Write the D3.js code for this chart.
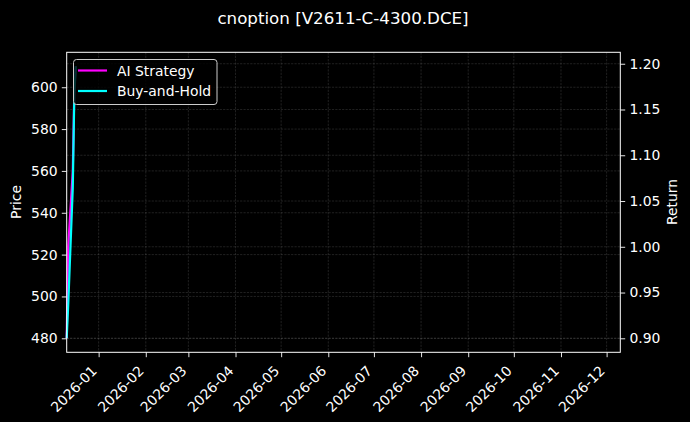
<!DOCTYPE html>
<html><head><meta charset="utf-8">
<script src="https://cdn.jsdelivr.net/npm/d3@7"></script>
<style>
html,body{margin:0;padding:0;background:#000;}
svg{display:block;font-family:"DejaVu Sans",sans-serif;}
</style></head>
<body><svg id="chart" width="690" height="422"></svg>
<script>
const title = "cnoption [V2611-C-4300.DCE]";
const dates = ["2025-12-11","2025-12-12","2025-12-15","2025-12-16","2025-12-17"];
const aiStrategy = [480, 524, 560, 598, 610];
const buyHold = [480, 496, 552, 596, 610];
const xDomain = ["2025-12-11","2026-12-10"];
const priceTicks = [480, 500, 520, 540, 560, 580, 600];
const returnTicks = [0.90, 0.95, 1.00, 1.05, 1.10, 1.15, 1.20];
const monthTicks = ["2026-01-01","2026-02-01","2026-03-01","2026-04-01","2026-05-01","2026-06-01",
  "2026-07-01","2026-08-01","2026-09-01","2026-10-01","2026-11-01","2026-12-01"];
const seriesNames = ["AI Strategy","Buy-and-Hold"];
const seriesColors = ["#ff00ff","#00ffff"];

const parse = d3.utcParse("%Y-%m-%d");
const L = 66.7, R = 620.3, T = 52.3, B = 352.3;
const FS = "13.9px";
const svg = d3.select("#chart");
svg.append("rect").attr("width",690).attr("height",422).attr("fill","#000");

const x = d3.scaleUtc().domain(xDomain.map(parse)).range([L,R]);
const y = d3.scaleLinear().domain([473.3, 616.7]).range([B,T]);
const y2 = d3.scaleLinear().domain([0.8847, 1.2125]).range([B,T]);

const grid = svg.append("g");
const gridStyle = s => s.attr("stroke","#b0b0b0").attr("stroke-opacity",0.3).attr("stroke-width",0.6).attr("stroke-dasharray","2.2,1.2");
monthTicks.map(parse).forEach(d => gridStyle(grid.append("line").attr("x1",x(d)).attr("x2",x(d)).attr("y1",T).attr("y2",B)));
priceTicks.forEach(v => gridStyle(grid.append("line").attr("x1",L).attr("x2",R).attr("y1",y(v)).attr("y2",y(v))));
returnTicks.forEach(v => gridStyle(grid.append("line").attr("x1",L).attr("x2",R).attr("y1",y2(v)).attr("y2",y2(v))));

const plot = svg.append("g");
const line = d3.line().x((d,i)=>x(parse(dates[i]))).y(d=>y(d));
[aiStrategy, buyHold].forEach((s,k) => {
  plot.append("path").datum(s).attr("d",line).attr("fill","none")
    .attr("stroke",seriesColors[k]).attr("stroke-width",2.2);
});

svg.append("rect").attr("x",L).attr("y",T).attr("width",R-L).attr("height",B-T)
  .attr("fill","none").attr("stroke","#fff").attr("stroke-width",1);

const styleAxis = g => {
  g.select(".domain").remove();
  g.selectAll(".tick line").attr("stroke","#fff").attr("stroke-width",0.9);
  g.selectAll(".tick text").attr("fill","#fff").style("font-size",FS).style("font-family","DejaVu Sans");
};
const yAxisL = svg.append("g").attr("transform",`translate(${L},0)`)
  .call(d3.axisLeft(y).tickValues(priceTicks).tickFormat(d3.format("d")).tickSize(4.9).tickPadding(4.2));
styleAxis(yAxisL);
const yAxisR = svg.append("g").attr("transform",`translate(${R},0)`)
  .call(d3.axisRight(y2).tickValues(returnTicks).tickFormat(d3.format(".2f")).tickSize(4.9).tickPadding(4.2));
styleAxis(yAxisR);
const xAxis = svg.append("g").attr("transform",`translate(0,${B})`)
  .call(d3.axisBottom(x).tickValues(monthTicks.map(parse)).tickFormat(d3.utcFormat("%Y-%m")).tickSize(4.9).tickPadding(4));
styleAxis(xAxis);
xAxis.selectAll(".tick text").attr("text-anchor","end").attr("dy",null).attr("y",0).attr("x",0)
  .attr("transform","translate(-5,16) rotate(-45)").attr("dominant-baseline","central");

svg.append("text").attr("x",343).attr("y",24).attr("text-anchor","middle").attr("fill","#fff")
  .style("font-size","16.7px").text(title);
svg.append("text").attr("transform","translate(21,202) rotate(-90)").attr("text-anchor","middle")
  .attr("fill","#fff").style("font-size",FS).text("Price");
svg.append("text").attr("transform","translate(677,202) rotate(-90)").attr("text-anchor","middle")
  .attr("fill","#fff").style("font-size",FS).text("Return");

const lg = svg.append("g");
lg.append("rect").attr("x",73.5).attr("y",59.5).attr("width",143.5).attr("height",45).attr("rx",3)
  .attr("fill","#000").attr("fill-opacity",0.8).attr("stroke","#cccccc").attr("stroke-width",1);
seriesNames.forEach((n,i) => {
  const yy = 70.5 + i*20.5;
  lg.append("line").attr("x1",78).attr("x2",107).attr("y1",yy).attr("y2",yy)
    .attr("stroke",seriesColors[i]).attr("stroke-width",2.2);
  lg.append("text").attr("x",117).attr("y",yy).attr("dy","0.36em").attr("fill","#fff")
    .style("font-size",FS).text(n);
});
</script></body></html>
